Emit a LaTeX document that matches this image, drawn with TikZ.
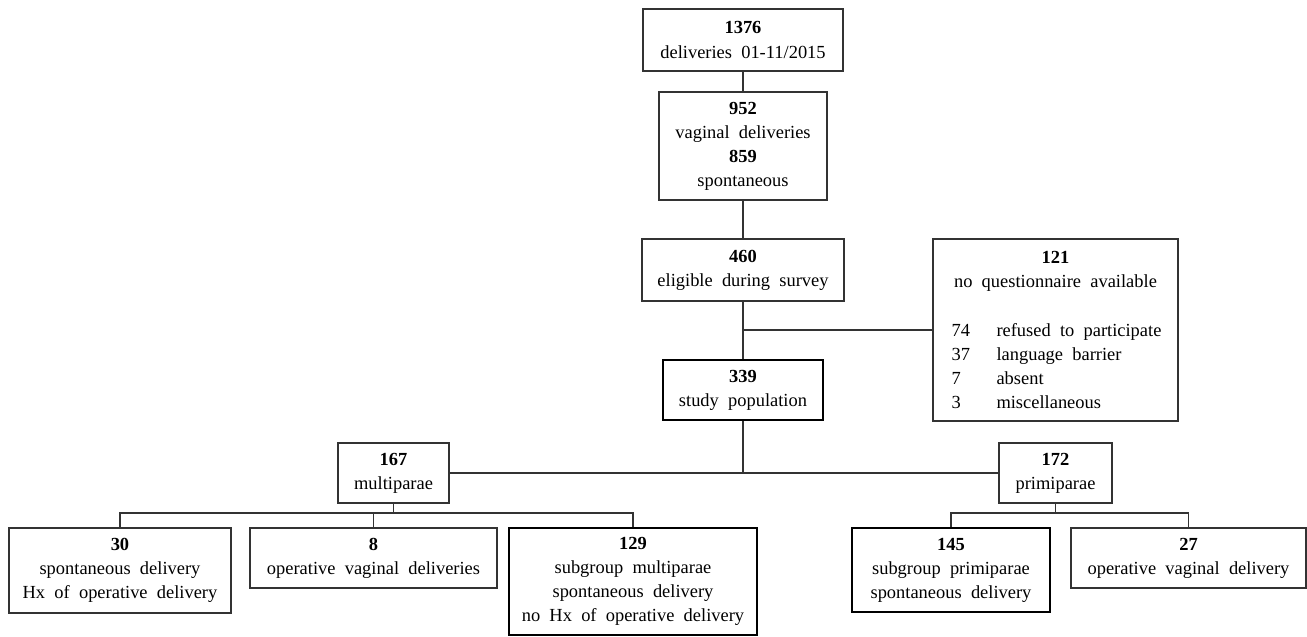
\documentclass[tikz,border=0pt]{standalone}
\usepackage{fontspec}
\setmainfont{Liberation Serif}

\tikzset{
  box/.style={draw=black!80, line width=0.8pt, inner sep=0pt, align=center,
    font=\fontsize{10.5}{13.7}\selectfont, execute at begin node={\spaceskip=0.5em\relax}},
  mainbox/.style={box, draw=black, line width=1.5pt},
  link/.style={draw=black!80, line width=0.8pt}
}
\newcommand{\reason}[2]{\makebox[4.16cm][l]{\makebox[0.9cm][l]{#1}#2}}

\begin{document}
\begin{tikzpicture}[x=0.02cm,y=-0.02cm]
        \useasboundingbox (0,0) rectangle (1307,636);
        % main line
        \node[box,minimum width=4cm,minimum height=1.24cm] (n1376) at (743,40) {\textbf{1376}\\deliveries 01-11/2015};
        \node[box,minimum width=3.36cm,minimum height=2.16cm] (n952) at (743,146) {\textbf{952}\\vaginal deliveries\\\textbf{859}\\spontaneous};
        \node[box,minimum width=4.04cm,minimum height=1.24cm] (n460) at (743,270) {\textbf{460}\\eligible during survey};
        \node[box,minimum width=4.9cm,minimum height=3.64cm] (n121) at (1055.5,330) {\textbf{121}\\no questionnaire available\\[13.7pt]
          \reason{74}{refused to participate}\\\reason{37}{language barrier}\\\reason{7}{absent}\\\reason{3}{miscellaneous}};
        \node[mainbox,minimum width=3.2cm,minimum height=1.2cm] (n339) at (743,390) {\textbf{339}\\study population};
        % parity groups
        \node[box,minimum width=2.22cm,minimum height=1.2cm] (n167) at (393.5,473) {\textbf{167}\\multiparae};
        \node[box,minimum width=2.26cm,minimum height=1.2cm] (n172) at (1055.5,473) {\textbf{172}\\primiparae};
        % subgroups
        \node[box,minimum width=4.44cm,minimum height=1.7cm] (n30) at (120,570.5) {\textbf{30}\\spontaneous delivery\\Hx of operative delivery};
        \node[box,minimum width=4.94cm,minimum height=1.2cm] (n8) at (373.5,558) {\textbf{8}\\operative vaginal deliveries};
        \node[mainbox,minimum width=4.96cm,minimum height=2.14cm] (n129) at (633,581.5) {\textbf{129}\\subgroup multiparae\\spontaneous delivery\\no Hx of operative delivery};
        \node[mainbox,minimum width=3.96cm,minimum height=1.68cm] (n145) at (951,570) {\textbf{145}\\subgroup primiparae\\spontaneous delivery};
        \node[box,minimum width=4.7cm,minimum height=1.2cm] (n27) at (1188.5,558) {\textbf{27}\\operative vaginal delivery};
        % connectors
        \draw[link] (n1376) -- (n952);
        \draw[link] (n952) -- (n460);
        \draw[link] (n460) -- (n339);
        \draw[link] (n460.south |- n121.west) -- (n121.west);
        \coordinate (hub) at (n339.south |- n167.east);
        \draw[link] (n339) -- (hub);
        \draw[link] (n167.east) -- (n172.west);
        \coordinate (mbr) at (393.5,513);
        \coordinate (pbr) at (1055.5,513);
        \draw[link] (n167) -- (mbr);
        \draw[link] (n30.north) |- (mbr) -| (n129.north);
        \draw[link] (n8.north) -- (n8.north |- mbr);
        \draw[link] (n172) -- (pbr);
        \draw[link] (n145.north) |- (pbr) -| (n27.north);
      \end{tikzpicture}
\end{document}
